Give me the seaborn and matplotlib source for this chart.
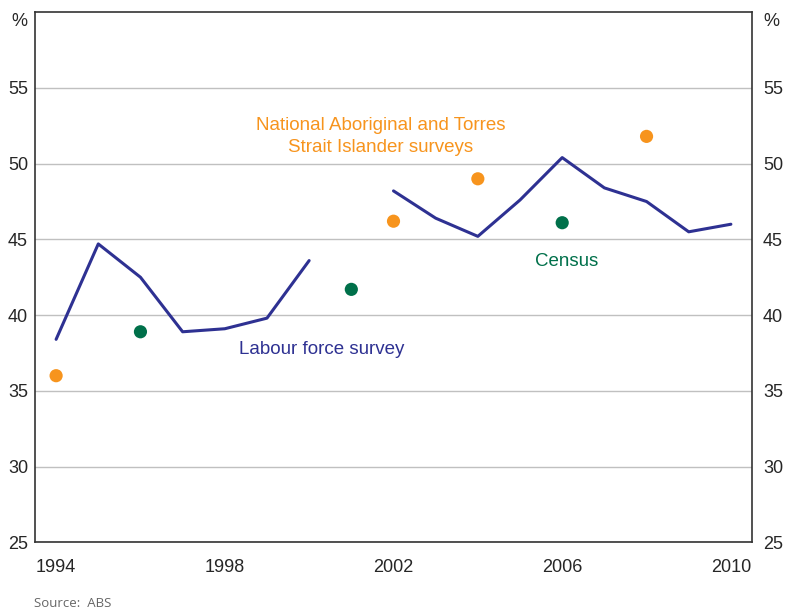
import numpy as np
import pandas as pd
import matplotlib.pyplot as plt
import seaborn as sns

# Labour force survey (gap in 2001)
lfs_years = [1994, 1995, 1996, 1997, 1998, 1999, 2000,
             2002, 2003, 2004, 2005, 2006, 2007, 2008, 2009, 2010]
lfs_values = [38.4, 44.7, 42.5, 38.9, 39.1, 39.8, 43.6,
              48.2, 46.4, 45.2, 47.6, 50.4, 48.4, 47.5, 45.5, 46.0]
lfs_segment = [1] * 7 + [2] * 9

census_years = [1996, 2001, 2006]
census_values = [38.9, 41.7, 46.1]

natsis_years = [1994, 2002, 2004, 2008]
natsis_values = [36.0, 46.2, 49.0, 51.8]

year_labels = [1994, 1998, 2002, 2006, 2010]
y_ticks = [25, 30, 35, 40, 45, 50, 55]

navy = "#2E3192"
orange = "#F7941D"
green = "#00704A"

lfs = pd.DataFrame({"year": lfs_years, "value": lfs_values, "seg": lfs_segment})
census = pd.DataFrame({"year": census_years, "value": census_values})
natsis = pd.DataFrame({"year": natsis_years, "value": natsis_values})

sns.set_style("white")
plt.rcParams["font.family"] = ["Liberation Sans", "DejaVu Sans"]

fig = plt.figure(figsize=(7.87, 6.09), dpi=100)
ax = fig.add_axes([0.0445, 0.1095, 0.911, 0.8705])

sns.lineplot(data=lfs, x="year", y="value", units="seg", estimator=None,
             color=navy, linewidth=2.2, ax=ax, legend=False)
sns.scatterplot(data=census, x="year", y="value", color=green, s=90,
                edgecolor="none", ax=ax, zorder=4)
sns.scatterplot(data=natsis, x="year", y="value", color=orange, s=90,
                edgecolor="none", ax=ax, zorder=4)

ax.set_xlim(1993.5, 2010.5)
ax.set_ylim(25, 60)
ax.set_yticks(y_ticks)
ax.set_xticks(year_labels)
ax.set_xticklabels([str(y) for y in year_labels])
ax.set_xticks(np.arange(1994.5, 2010, 1), minor=True)
ax.tick_params(axis="x", which="major", length=0, labelsize=13, pad=12)
ax.tick_params(axis="x", which="minor", direction="in", length=6.5, width=1, color="#333333")
ax.tick_params(axis="y", length=0, labelsize=13, pad=5)
ax.set_xlabel("")
ax.set_ylabel("")
ax.grid(axis="y", color="#c0c0c0", linewidth=1)
ax.set_axisbelow(True)
for sp in ax.spines.values():
    sp.set_color("#333333")
    sp.set_linewidth(1.2)
    sp.set_visible(True)

ax2 = ax.twinx()
ax2.set_ylim(25, 60)
ax2.set_yticks(y_ticks)
ax2.tick_params(axis="y", length=0, labelsize=13, pad=8)
for sp in ax2.spines.values():
    sp.set_visible(False)

fig.text(0.0445 - 0.01, 0.965, "%", ha="right", va="center", fontsize=13)
fig.text(0.9555 + 0.014, 0.965, "%", ha="left", va="center", fontsize=13)

ax.text(2000.3, 37.7, "Labour force survey", color=navy, fontsize=13.5,
        ha="center", va="center")
ax.text(2006.1, 43.55, "Census", color=green, fontsize=13.5,
        ha="center", va="center")
ax.text(2001.7, 51.8, "National Aboriginal and Torres\nStrait Islander surveys",
        color=orange, fontsize=13.5, ha="center", va="center", linespacing=1.4)

fig.text(0.043, -0.002, "Source:  ABS", fontsize=9.5, color="#666666",
         family=["Open Sans", "DejaVu Sans"], ha="left", va="bottom")

fig.savefig("out.png", dpi=100)
